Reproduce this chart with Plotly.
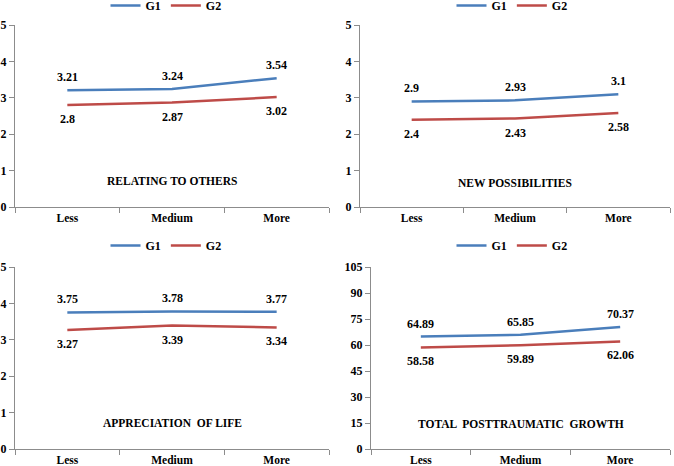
import plotly.graph_objects as go

categories = ["Less", "Medium", "More"]
panel_titles = ["RELATING TO OTHERS", "NEW POSSIBILITIES", "APPRECIATION  OF LIFE", "TOTAL  POSTTRAUMATIC  GROWTH"]
g1_values = [
    [3.21, 3.24, 3.54],
    [2.9, 2.93, 3.1],
    [3.75, 3.78, 3.77],
    [64.89, 65.85, 70.37],
]
g2_values = [
    [2.8, 2.87, 3.02],
    [2.4, 2.43, 2.58],
    [3.27, 3.39, 3.34],
    [58.58, 59.89, 62.06],
]
y_ranges = [[0, 5], [0, 5], [0, 5], [0, 105]]
y_dticks = [1, 1, 1, 15]

W, H = 674, 466
BLUE = "#4A7EBB"
RED = "#BE4B48"
AXC = "#8C8C8C"
FONT = dict(family="Liberation Serif", size=12, color="#000000", weight="bold")
TFONT = dict(family="Liberation Serif", size=11.5, color="#000000", weight="bold")

# panel geometry in pixels: (x0, x1, ytop, ybottom)
panels = [
    (15, 329, 25, 207),
    (360, 670, 25, 207),
    (15, 329, 267, 449),
    (371, 670, 267, 449),
]
legend_pos = [(166, -9), (512, -9), (166, 231), (512, 231)]
title_y = [181, 183, 423, 424]

fig = go.Figure()
annotations = []
for i in range(4):
    n = "" if i == 0 else str(i + 1)
    xa, ya = "x" + n, "y" + n
    leg = "legend" + n
    fig.add_trace(go.Scatter(x=categories, y=g1_values[i], mode="lines", name="G1",
                             line=dict(color=BLUE, width=2.5), xaxis=xa, yaxis=ya, legend=leg))
    fig.add_trace(go.Scatter(x=categories, y=g2_values[i], mode="lines", name="G2",
                             line=dict(color=RED, width=2.5), xaxis=xa, yaxis=ya, legend=leg))
    for c, v in zip(categories, g1_values[i]):
        annotations.append(dict(x=c, y=v, xref=xa, yref=ya, text=f"{v:g}", showarrow=False,
                                yshift=13, font=FONT))
    for c, v in zip(categories, g2_values[i]):
        annotations.append(dict(x=c, y=v, xref=xa, yref=ya, text=f"{v:g}", showarrow=False,
                                yshift=-14, font=FONT))
    x0, x1, yt, yb = panels[i]
    annotations.append(dict(x=0.5, y=(H - title_y[i]) / H, xref=xa + " domain", yref="paper",
                            text=panel_titles[i], showarrow=False, font=TFONT,
                            xanchor="center", yanchor="middle"))
    ax = dict(domain=[x0 / W, x1 / W], anchor=ya, showgrid=False, showline=True, linecolor=AXC,
              linewidth=1, ticks="outside", tickson="boundaries", ticklen=5, tickcolor=AXC,
              tickfont=TFONT, range=[-0.5, 2.5], fixedrange=True, automargin=False)
    ay = dict(domain=[(H - yb) / H, (H - yt) / H], anchor=xa, showgrid=False, showline=True,
              linecolor=AXC, linewidth=1, ticks="outside", ticklen=5, tickcolor=AXC,
              tickfont=FONT, range=y_ranges[i], dtick=y_dticks[i], tick0=0, zeroline=False,
              fixedrange=True, automargin=False)
    lx, ly = legend_pos[i]
    lg = dict(orientation="h", x=lx / W, y=(H - ly) / H, xanchor="center", yanchor="top",
              font=FONT, bgcolor="rgba(0,0,0,0)", itemwidth=30, tracegroupgap=0)
    fig.update_layout(**{"xaxis" + n: ax, "yaxis" + n: ay, leg: lg})

fig.update_layout(width=W, height=H, margin=dict(l=0, r=0, t=0, b=0, autoexpand=False),
                  paper_bgcolor="white", plot_bgcolor="white", annotations=annotations,
                  showlegend=True, font=FONT)
fig.write_html("out.html", config={"displayModeBar": False},
               post_script="document.body.style.margin='0';document.body.style.overflow='hidden';")
